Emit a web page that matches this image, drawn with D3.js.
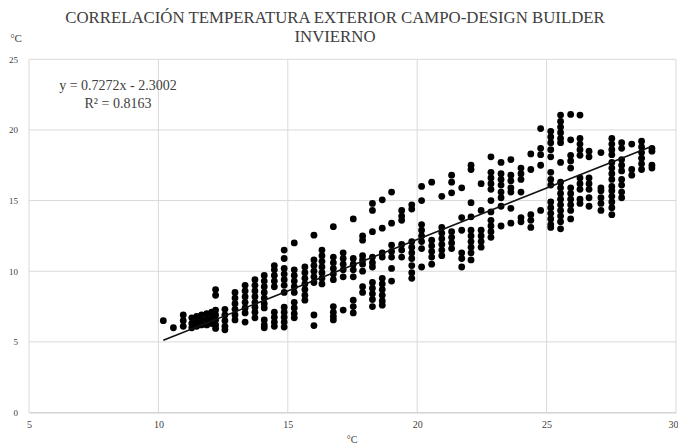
<!DOCTYPE html>
<html>
<head>
<meta charset="utf-8">
<script src="https://cdn.jsdelivr.net/npm/d3@7"></script>
<style>
  html, body { margin: 0; padding: 0; background: #fff; }
  svg { display: block; }
  text { font-family: "Liberation Serif", "Times New Roman", serif; fill: #404040; }
</style>
</head>
<body>
<svg id="chart" width="678" height="447"></svg>
<script>
// ---- Data ----
const titleLines = ["CORRELACIÓN TEMPERATURA EXTERIOR CAMPO-DESIGN BUILDER", "INVIERNO"];
const xTicks = [5, 10, 15, 20, 25, 30];
const yTicks = [0, 5, 10, 15, 20, 25];
const trendSlope = 0.7272;
const trendIntercept = -2.3002;
const equationLabels = ["y = 0.7272x - 2.3002", "R² = 0.8163"];

// x value of each vertical column of points (°C, campo)
const columnX = [
  10.19, 10.58, 10.96, 11.29, 11.48, 11.67, 11.87, 12.06, 12.21, 12.57,
  12.96, 13.35, 13.73, 14.09, 14.48, 14.86, 15.25, 15.66, 16.01, 16.32,
  16.76, 17.14, 17.53, 17.89, 18.27, 18.65, 19.01, 19.40, 19.79, 20.17,
  20.56, 20.95, 21.33, 21.72, 22.08, 22.47, 22.85, 23.24, 23.62, 24.01,
  24.39, 24.77, 25.16, 25.54, 25.93, 26.29, 26.64, 27.10, 27.52, 27.90,
  28.29, 28.67, 29.07
];
// y values (°C, Design Builder) in each column
const columnY = [
  [6.5],
  [6.0],
  [6.1, 6.5, 6.9],
  [6.0, 6.3, 6.7],
  [6.1, 6.4, 6.8],
  [6.2, 6.5, 6.9],
  [6.2, 6.6, 7.0],
  [6.3, 6.7, 7.1],
  [8.7, 8.3, 7.25, 6.9, 6.55, 6.2, 5.95],
  [7.3, 6.9, 6.5, 6.1, 5.85],
  [8.5, 8.1, 7.7, 7.3, 6.9, 6.55],
  [9.0, 8.6, 8.2, 7.8, 7.4, 7.05, 6.4],
  [9.4, 9.0, 8.6, 8.2, 7.8, 7.45, 7.1, 6.7],
  [9.7, 9.3, 8.9, 8.5, 8.1, 7.7, 7.4, 6.55, 6.2, 6.0],
  [10.4, 10.1, 9.7, 9.3, 8.9, 7.1, 6.75, 6.4, 6.1],
  [11.5, 10.9, 10.2, 9.8, 9.4, 9.0, 8.5, 7.45, 7.1, 6.75, 6.4, 6.05],
  [12.0, 10.1, 9.7, 9.3, 8.9, 8.5, 7.8, 7.4, 7.0, 6.7],
  [10.3, 9.9, 9.5, 9.1, 8.7, 8.3, 7.95],
  [12.55, 10.8, 10.4, 10.0, 9.6, 9.2, 6.9, 6.15],
  [11.5, 11.1, 10.7, 10.3, 9.9, 9.5, 9.1],
  [13.15, 11.0, 10.6, 10.2, 9.8, 9.4, 7.5, 7.1, 6.8, 6.55],
  [11.3, 10.9, 10.5, 10.1, 9.6, 7.25],
  [13.7, 10.9, 10.5, 10.1, 9.6, 7.95, 7.5, 7.05],
  [12.5, 12.2, 11.1, 10.8, 10.5, 10.0, 8.9, 8.5],
  [14.8, 14.3, 12.8, 11.0, 10.6, 10.3, 9.2, 8.8, 8.4, 8.0, 7.5],
  [15.05, 13.05, 11.3, 11.0, 9.5, 9.1, 8.7, 8.3, 7.9, 7.6],
  [15.6, 13.4, 11.85, 11.4, 11.0, 10.2, 9.3],
  [14.3, 13.9, 13.6, 11.9, 11.5, 11.0],
  [14.7, 14.4, 12.1, 11.7, 11.3, 10.9, 10.4, 9.9, 9.5],
  [16.0, 15.0, 13.3, 12.9, 12.5, 12.1, 11.6, 10.3],
  [16.3, 12.2, 11.8, 11.4, 11.0, 10.5],
  [15.3, 13.1, 12.7, 12.3, 11.9, 11.5, 11.1],
  [16.8, 16.3, 15.55, 12.8, 12.4, 12.0, 11.6],
  [15.9, 13.8, 12.9, 11.3, 10.9, 10.3],
  [17.5, 17.2, 14.85, 13.85, 12.9, 12.5, 12.1, 11.7, 11.3, 10.8],
  [16.2, 14.3, 12.9, 12.5, 12.1, 11.7],
  [18.1, 17.0, 16.6, 16.2, 15.8, 15.0, 14.2, 13.6, 13.2, 12.8, 12.4],
  [17.7, 16.9, 16.5, 16.1, 15.6, 15.2, 14.6, 13.2],
  [17.9, 16.8, 16.4, 15.9, 15.6, 14.45, 13.4],
  [17.3, 16.9, 16.5, 15.6, 13.8, 13.5],
  [18.3, 17.2, 14.0, 13.6, 13.1],
  [20.1, 18.7, 18.25, 17.5, 14.3],
  [19.9, 19.5, 19.1, 18.6, 18.1, 17.0, 16.5, 16.1, 14.9, 14.5, 14.1, 13.7, 13.3, 13.1],
  [21.05, 20.6, 20.2, 19.8, 19.4, 19.1, 17.7, 16.3, 15.9, 15.5, 15.1, 14.7, 14.3, 13.9, 13.5, 13.0],
  [21.1, 19.3, 18.2, 17.8, 17.3, 15.9, 15.5, 15.1, 14.7, 14.3, 13.7],
  [21.05, 19.4, 19.0, 18.6, 18.2, 16.6, 16.2, 15.8, 15.1, 14.8],
  [18.5, 18.1, 16.6, 16.2, 15.8, 15.2, 14.6],
  [18.4, 15.9, 15.7, 15.2, 14.8, 14.3],
  [19.4, 19.0, 18.6, 18.25, 17.7, 17.3, 16.9, 16.5, 16.0, 15.7, 15.3, 14.9, 14.5, 14.0],
  [19.1, 18.7, 17.9, 17.5, 17.1, 16.5, 16.1, 15.6, 15.2],
  [19.0, 17.2, 16.8],
  [19.2, 18.8, 18.4, 18.0, 17.6, 17.2],
  [18.7, 18.5, 17.5, 17.3]
];

// ---- Build flat point list ----
const points = [];
columnX.forEach((x, i) => columnY[i].forEach(y => points.push({x, y})));

// ---- Layout ----
const svg = d3.select("#chart");
const plot = {left: 29, right: 676, top: 59.3, bottom: 412.5};

const x = d3.scaleLinear().domain([5, 30]).range([plot.left, plot.right]);
const y = d3.scaleLinear().domain([0, 25]).range([plot.bottom, plot.top]);

// Gridlines
svg.append("g").selectAll("line").data(yTicks).join("line")
  .attr("x1", plot.left).attr("x2", plot.right)
  .attr("y1", d => y(d)).attr("y2", d => y(d))
  .attr("stroke", "#d9d9d9").attr("stroke-width", 1);
svg.append("g").selectAll("line").data(xTicks).join("line")
  .attr("x1", d => x(d)).attr("x2", d => x(d))
  .attr("y1", plot.top).attr("y2", plot.bottom)
  .attr("stroke", "#d9d9d9").attr("stroke-width", 1);

// Axes (labels only, via d3 axis generators)
const xAxis = svg.append("g")
  .attr("transform", `translate(0,${plot.bottom})`)
  .call(d3.axisBottom(x).tickValues(xTicks).tickSize(0).tickPadding(8).tickFormat(d3.format("d")));
xAxis.select(".domain").attr("stroke", "#d0d0d0");
xAxis.selectAll("text").style("font-family", "Liberation Serif, serif").style("font-size", "10px").attr("fill", "#404040");
// keep the last label inside the window
xAxis.selectAll(".tick").filter(d => d === 30).select("text").attr("text-anchor", "end").attr("x", 2);

const yAxis = svg.append("g")
  .attr("transform", `translate(${plot.left},0)`)
  .call(d3.axisLeft(y).tickValues(yTicks).tickSize(0).tickPadding(11).tickFormat(d3.format("d")));
yAxis.select(".domain").remove();
yAxis.selectAll("text").style("font-family", "Liberation Serif, serif").style("font-size", "9px").attr("fill", "#404040");

// Points
svg.append("g").selectAll("circle").data(points).join("circle")
  .attr("cx", d => x(d.x)).attr("cy", d => y(d.y)).attr("r", 3.4)
  .attr("fill", "#000");

// Trend line
const xExt = d3.extent(points, d => d.x);
svg.append("line")
  .attr("x1", x(xExt[0])).attr("y1", y(trendSlope * xExt[0] + trendIntercept))
  .attr("x2", x(xExt[1])).attr("y2", y(trendSlope * xExt[1] + trendIntercept))
  .attr("stroke", "#111").attr("stroke-width", 1.6);

// Equation
svg.append("g").selectAll("text").data(equationLabels).join("text")
  .attr("x", 118).attr("y", (d, i) => 90 + i * 18)
  .attr("text-anchor", "middle").style("font-size", "14px").attr("fill", "#333")
  .text(d => d);

// Title
svg.append("g").selectAll("text").data(titleLines).join("text")
  .attr("x", 335).attr("y", (d, i) => 23 + i * 19)
  .attr("text-anchor", "middle").style("font-size", "16.8px").attr("fill", "#333")
  .text(d => d);

// Axis titles
svg.append("text").attr("x", 16).attr("y", 42).attr("text-anchor", "middle")
  .style("font-size", "11px").text("°C");
svg.append("text").attr("x", 352).attr("y", 443).attr("text-anchor", "middle")
  .style("font-size", "10px").text("°C");
</script>
</body>
</html>
